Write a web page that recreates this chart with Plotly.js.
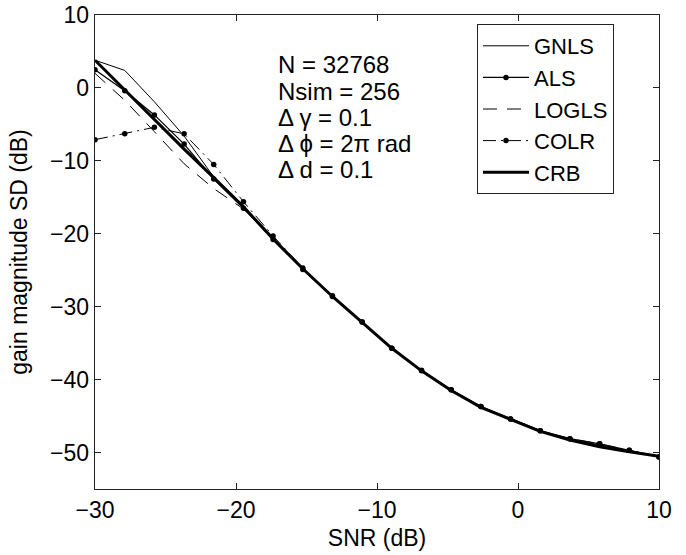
<!DOCTYPE html>
<html>
<head>
<meta charset="utf-8">
<script src="https://cdn.plot.ly/plotly-3.0.1.min.js"></script>
<style>html,body{margin:0;padding:0;background:#fff;}#chart{width:686px;height:555px;}</style>
</head>
<body>
<div id="chart"></div>
<script>
var snr = [-30, -27.89, -25.79, -23.68, -21.58, -19.47, -17.37, -15.26, -13.16, -11.05, -8.95, -6.84, -4.74, -2.63, -0.53, 1.58, 3.68, 5.79, 7.89, 10];
var gnls = [3.8, 2.4, -1.9, -6.6, -12.2, -16.2, -20.6, -24.8, -28.6, -32.2, -35.7, -38.8, -41.5, -43.8, -45.5, -47.1, -48.2, -49.0, -49.8, -50.5];
var als = [2.5, -0.4, -3.7, -7.7, -12.5, -16.5, -20.8, -24.9, -28.6, -32.1, -35.7, -38.8, -41.4, -43.7, -45.4, -47.0, -48.1, -48.8, -49.7, -50.6];
var logls = [2.0, -1.7, -6.0, -10.4, -13.8, -16.6, -20.6, -24.8, -28.6, -32.2, -35.7, -38.8, -41.5, -43.8, -45.5, -47.1, -48.3, -49.2, -49.9, -50.5];
var colr = [-7.1, -6.3, -5.4, -6.3, -10.5, -15.6, -20.3, -24.7, -28.5, -32.1, -35.7, -38.7, -41.4, -43.7, -45.4, -47.0, -48.1, -48.8, -49.7, -50.6];
var crb = [3.8, -0.3, -4.3, -8.4, -12.3, -16.3, -20.7, -24.8, -28.6, -32.2, -35.7, -38.8, -41.5, -43.8, -45.5, -47.1, -48.3, -49.2, -49.9, -50.5];
var seriesNames = ["GNLS", "ALS", "LOGLS", "COLR", "CRB"];
var infoLines = ["N = 32768", "Nsim = 256", "\u0394 \u03b3 = 0.1", "\u0394 \u03d5 = 2\u03c0 rad", "\u0394 d = 0.1"];

var FONT = "Liberation Sans, Arial, Helvetica, sans-serif";
var AX = "#222";
var traces = [
  {x: snr, y: gnls, name: seriesNames[0], mode: "lines", line: {color: "#000", width: 1}},
  {x: snr, y: als, name: seriesNames[1], mode: "lines+markers", line: {color: "#000", width: 1.3}, marker: {color: "#000", size: 5.5}},
  {x: snr, y: logls, name: seriesNames[2], mode: "lines", line: {color: "#000", width: 1, dash: "14px,10px"}},
  {x: snr, y: colr, name: seriesNames[3], mode: "lines+markers", line: {color: "#000", width: 1, dash: "13px,5px,2px,5px"}, marker: {color: "#000", size: 5.5}},
  {x: snr, y: crb, name: seriesNames[4], mode: "lines", line: {color: "#000", width: 3}}
];

var plotL = 95, plotT = 15, plotW = 564, plotH = 474;
function px(xp) { return (xp - plotL) / plotW; }
function py(yp) { return (plotT + plotH - yp) / plotH; }
var lineCenters = [64.5, 91, 117.5, 143.5, 169.5];
var annotations = infoLines.map(function (t, i) {
  return {xref: "paper", yref: "paper", x: px(276), y: py(lineCenters[i]), xanchor: "left", yanchor: "middle",
          align: "left", showarrow: false, text: t, font: {family: FONT, size: 24, color: "#000"}};
});

var layout = {
  width: 686, height: 555,
  margin: {l: 95, r: 27, t: 15, b: 66},
  paper_bgcolor: "#fff", plot_bgcolor: "#fff",
  font: {family: FONT, size: 23, color: "#000"},
  showlegend: true,
  legend: {x: px(477), y: py(24), xanchor: "left", yanchor: "top", bgcolor: "#fff",
           bordercolor: AX, borderwidth: 1, font: {family: FONT, size: 22},
           itemwidth: 46, tracegroupgap: 0},
  xaxis: {range: [-30, 10], dtick: 10, tick0: -30, ticks: "inside", ticklen: 6, tickcolor: AX,
          showline: true, linecolor: AX, linewidth: 1.3, mirror: "ticks", showgrid: false, zeroline: false,
          title: {text: "SNR (dB)", font: {size: 23}, standoff: 8}, tickfont: {size: 23}},
  yaxis: {range: [-55, 10], dtick: 10, tick0: -50, ticks: "inside", ticklen: 6, tickcolor: AX,
          showline: true, linecolor: AX, linewidth: 1.3, mirror: "ticks", showgrid: false, zeroline: false,
          title: {text: "gain magnitude SD (dB)", font: {size: 23}, standoff: 16}, tickfont: {size: 23}},
  annotations: annotations
};
Plotly.newPlot("chart", traces, layout, {displayModeBar: false, staticPlot: true});
</script>
</body>
</html>
